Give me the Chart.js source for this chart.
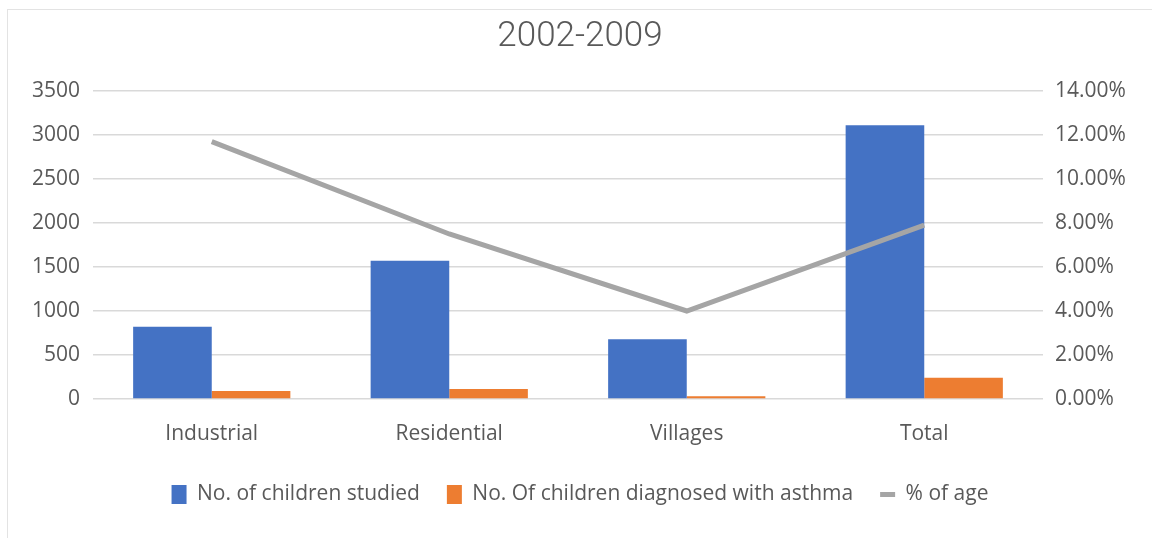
<!DOCTYPE html>
<html>
<head>
<meta charset="utf-8">
<title>Childhood asthma 2002-2009</title>
<script src="https://cdn.jsdelivr.net/npm/chart.js@4"></script>
<style>
    html, body { margin: 0; padding: 0; background: #fff; }
    #chartBox {
        position: absolute;
        left: 7px;
        top: 9px;
        width: 1144px;
        height: 528px;
        border-left: 1px solid #e3e3e3;
        border-top: 1px solid #e3e3e3;
    }
</style>
</head>
<body>
<div id="chartBox"><canvas id="asthmaChart"></canvas></div>
<script>
// Survey figures by area
const areas = ['Industrial', 'Residential', 'Villages', 'Total'];
const childrenStudied = [820, 1570, 680, 3110];
const childrenWithAsthma = [90, 115, 30, 242];
const percentOfAge = [11.7, 7.5, 4.0, 7.9];

const countTicks = [0, 500, 1000, 1500, 2000, 2500, 3000, 3500];
const percentTicks = [0, 2, 4, 6, 8, 10, 12, 14];

const textColor = '#595959';
const gridColor = '#d9d9d9';
const tickFont = { family: 'Open Sans', size: 21 };

function setupAsthmaChart() {
    const canvas = document.getElementById('asthmaChart');
    const ctx = canvas.getContext('2d');

    new Chart(ctx, {
        type: 'bar',
        data: {
            labels: areas,
            datasets: [{
                label: 'No. of children studied',
                data: childrenStudied,
                backgroundColor: '#4472C4',
                yAxisID: 'y',
                order: 1,
                pointStyle: 'rect'
            }, {
                label: 'No. Of children diagnosed with asthma',
                data: childrenWithAsthma,
                backgroundColor: '#ED7D31',
                yAxisID: 'y',
                order: 1,
                pointStyle: 'rect'
            }, {
                type: 'line',
                label: '% of age',
                data: percentOfAge,
                borderColor: '#A5A5A5',
                backgroundColor: '#A5A5A5',
                borderWidth: 5,
                pointRadius: 0,
                tension: 0,
                yAxisID: 'y1',
                order: 0,
                pointStyle: 'line'
            }]
        },
        options: {
            responsive: true,
            maintainAspectRatio: false,
            animation: false,
            datasets: {
                bar: { categoryPercentage: 0.662, barPercentage: 1 }
            },
            layout: { padding: { left: 0, right: 0, top: 0, bottom: 23 } },
            plugins: {
                title: {
                    display: true,
                    text: '2002-2009',
                    color: textColor,
                    font: { family: 'Roboto, "Open Sans", sans-serif', size: 35, weight: 300 },
                    padding: { top: 6, bottom: 33 }
                },
                legend: {
                    position: 'bottom',
                    labels: {
                        color: textColor,
                        font: { family: 'Open Sans', size: 21 },
                        usePointStyle: true,
                        pointStyleWidth: 15,
                        boxHeight: 19,
                        padding: 27,
                        sort: (a, b) => a.datasetIndex - b.datasetIndex
                    }
                },
                tooltip: { enabled: false }
            },
            scales: {
                x: {
                    grid: { display: false },
                    border: { display: false },
                    ticks: { color: textColor, font: tickFont, padding: 14 },
                    afterFit: (scale) => { scale.height = 58; }
                },
                y: {
                    position: 'left',
                    min: 0,
                    max: 3500,
                    afterBuildTicks: (scale) => { scale.ticks = countTicks.map(v => ({ value: v })); },
                    grid: { color: gridColor, lineWidth: 1.5, drawTicks: false },
                    border: { display: false },
                    ticks: {
                        color: textColor,
                        font: tickFont,
                        padding: 13,
                        callback: (v) => String(v)
                    },
                    afterFit: (scale) => { scale.width = 85; }
                },
                y1: {
                    position: 'right',
                    min: 0,
                    max: 14,
                    afterBuildTicks: (scale) => { scale.ticks = percentTicks.map(v => ({ value: v })); },
                    grid: { display: false, drawTicks: false },
                    border: { display: false },
                    ticks: {
                        color: textColor,
                        font: tickFont,
                        padding: 12,
                        callback: (v) => Number(v).toFixed(2) + '%'
                    },
                    afterFit: (scale) => { scale.width = 109; }
                }
            }
        }
    });
}

setupAsthmaChart();
</script>
</body>
</html>
